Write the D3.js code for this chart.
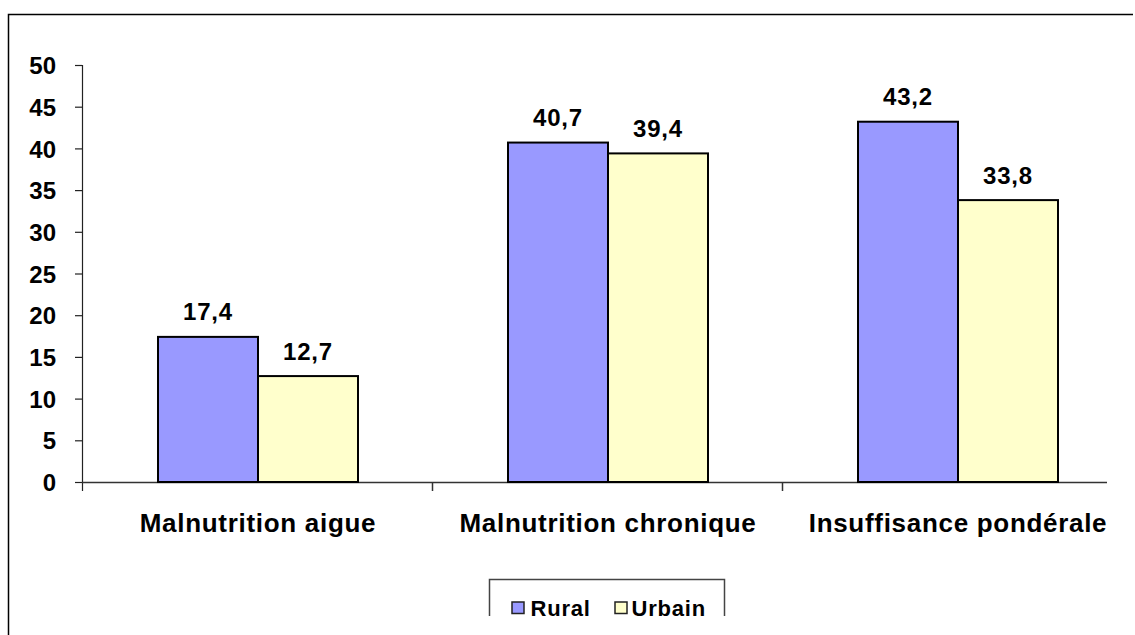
<!DOCTYPE html>
<html>
<head>
<meta charset="utf-8">
<script src="https://cdn.jsdelivr.net/npm/d3@7"></script>
<style>
  html, body { margin: 0; padding: 0; background: #fff; }
  svg { display: block; }
  text { font-family: "Liberation Sans", Arial, sans-serif; font-weight: bold; fill: #000; }
</style>
</head>
<body>
<svg id="chart" width="1135" height="635"></svg>
<script>
// Malnutrition rates (%) by residence area
const categories = ["Malnutrition aigue", "Malnutrition chronique", "Insuffisance pondérale"];
const seriesNames = ["Rural", "Urbain"];
const rural = [17.4, 40.7, 43.2];
const urbain = [12.7, 39.4, 33.8];
const yTicks = [0, 5, 10, 15, 20, 25, 30, 35, 40, 45, 50];
const colors = ["#9999FF", "#FFFFCC"];

const FONT = '"Liberation Sans", Arial, sans-serif';
const svg = d3.select("#chart");

// outer frame (top and left edges visible)
svg.append("path")
  .attr("d", "M8.5,635 L8.5,14.5 L1133,14.5")
  .attr("fill", "none").attr("stroke", "#000").attr("stroke-width", 1.5);

const plot = { left: 82, right: 1132, top: 65, bottom: 482 };

const x0 = d3.scaleBand().domain(categories).range([plot.left, plot.right]);
const x1 = d3.scaleBand().domain(seriesNames).range([76, 276]);
const y = d3.scaleLinear().domain([0, 50]).range([plot.bottom, plot.top]);

const fmt = v => d3.format(".1f")(v).replace(".", ",");

// y axis
const yAxis = svg.append("g").attr("transform", `translate(${plot.left},0)`)
  .call(d3.axisLeft(y).tickValues(yTicks).tickSize(7).tickPadding(19).tickFormat(d3.format("d")));
yAxis.select(".domain").attr("stroke", "#222").attr("stroke-width", 1.2)
  .attr("d", `M0.5,${plot.top}V${plot.bottom + 9}`);
yAxis.selectAll(".tick line").attr("stroke", "#222").attr("stroke-width", 1.2);
yAxis.selectAll(".tick text")
  .style("font-size", "24px").style("font-family", FONT).style("font-weight", "bold")
  .attr("fill", "#000").attr("dy", "0.36em");

// x axis baseline and category separators
svg.append("line").attr("x1", plot.left).attr("x2", 1107).attr("y1", plot.bottom + 0.5).attr("y2", plot.bottom + 0.5)
  .attr("stroke", "#333").attr("stroke-width", 1.5);
svg.selectAll("line.sep").data(categories.slice(1)).join("line")
  .attr("class", "sep")
  .attr("x1", c => x0(c) + 0.5).attr("x2", c => x0(c) + 0.5)
  .attr("y1", plot.bottom).attr("y2", plot.bottom + 9)
  .attr("stroke", "#333").attr("stroke-width", 1.5);

// bars and value labels
const rows = categories.map((c, i) => [
  { s: "Rural", v: rural[i], col: colors[0] },
  { s: "Urbain", v: urbain[i], col: colors[1] }
]);

const groups = svg.selectAll("g.cat").data(categories).join("g")
  .attr("class", "cat").attr("transform", c => `translate(${x0(c)},0)`);

groups.each(function(c, i) {
  const g = d3.select(this);
  g.selectAll("rect").data(rows[i]).join("rect")
    .attr("x", d => x1(d.s)).attr("y", d => y(d.v))
    .attr("width", x1.bandwidth()).attr("height", d => y(0) - y(d.v))
    .attr("fill", d => d.col).attr("stroke", "#000").attr("stroke-width", 2);
  g.selectAll("text.val").data(rows[i]).join("text")
    .attr("class", "val")
    .attr("x", d => x1(d.s) + x1.bandwidth() / 2)
    .attr("y", d => y(d.v) - 16.5)
    .attr("text-anchor", "middle")
    .style("font-size", "24px").style("letter-spacing", "0.8px")
    .text(d => fmt(d.v));
});

// category labels
svg.selectAll("text.catlabel").data(categories).join("text")
  .attr("class", "catlabel")
  .attr("x", c => x0(c) + 176).attr("y", 531.5)
  .attr("text-anchor", "middle")
  .style("font-size", "26px").style("letter-spacing", "0.7px")
  .text(c => c);

// legend (lower part falls outside the visible area)
svg.append("clipPath").attr("id", "legclip")
  .append("rect").attr("x", 0).attr("y", 0).attr("width", 1135).attr("height", 616);
const lg = svg.append("g").attr("clip-path", "url(#legclip)");
lg.append("path").attr("d", "M489.5,640 V579.5 H724.5 V640")
  .attr("fill", "none").attr("stroke", "#444").attr("stroke-width", 1.5);
const items = [
  { name: seriesNames[0], col: colors[0], sx: 512, tx: 530.5 },
  { name: seriesNames[1], col: colors[1], sx: 615, tx: 631.5 }
];
items.forEach(it => {
  lg.append("rect").attr("x", it.sx).attr("y", 602).attr("width", 12).attr("height", 11.5)
    .attr("fill", it.col).attr("stroke", "#222").attr("stroke-width", 1.5);
  lg.append("text").attr("x", it.tx).attr("y", 616)
    .style("font-size", "22px").style("letter-spacing", "0.8px").text(it.name);
});
</script>
</body>
</html>
